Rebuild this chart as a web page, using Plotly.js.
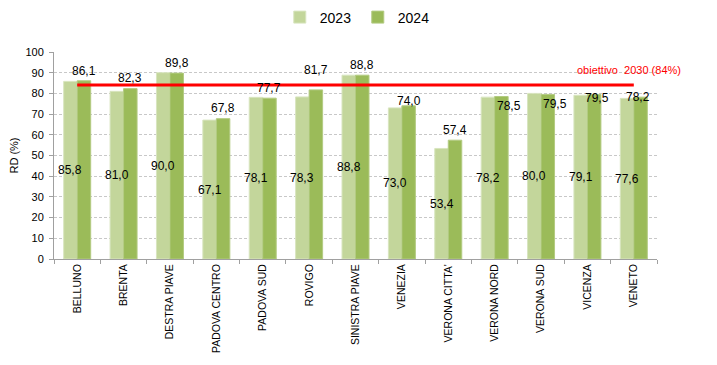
<!DOCTYPE html>
<html>
<head>
<meta charset="utf-8">
<script src="https://cdn.plot.ly/plotly-3.0.1.min.js"></script>
<style>html,body{margin:0;padding:0;background:#fff}#chart{width:717px;height:365px}</style>
</head>
<body>
<div id="chart"></div>
<script>
const categories = ["BELLUNO","BRENTA","DESTRA PIAVE","PADOVA CENTRO","PADOVA SUD","ROVIGO","SINISTRA PIAVE","VENEZIA","VERONA CITTA'","VERONA NORD","VERONA SUD","VICENZA","VENETO"];
const values2023 = [85.8, 81.0, 90.0, 67.1, 78.1, 78.3, 88.8, 73.0, 53.4, 78.2, 80.0, 79.1, 77.6];
const values2024 = [86.1, 82.3, 89.8, 67.8, 77.7, 81.7, 88.8, 74.0, 57.4, 78.5, 79.5, 79.5, 78.2];
const target2030 = 84;
const targetLabel = "obiettivo&nbsp;&nbsp;2030&nbsp;(84%)";
const yTicks = [0,10,20,30,40,50,60,70,80,90,100];

// label placement tweaks (style only, pixels)
const shiftY2024 = [10, 10.5, 10, 10.5, 10, 20, 10, 5, 10, -9.5, -10, -4, 0];
const shiftX2024 = [0, 0, 0, 0, 0, 0, 0, 0, 0, 8, 7, 3, -3];

const fmt = v => v.toFixed(1).replace('.', ',');
const BAR_OFF = 6.7;

const traces = [
  {type:'bar', name:'2023', x:categories, y:values2023,
   marker:{color:'#c3d69b', line:{color:'#d8e5bf', width:1}}, hoverinfo:'none'},
  {type:'bar', name:'2024', x:categories, y:values2024,
   marker:{color:'#9bbb59', line:{color:'#b3cb82', width:1}}, hoverinfo:'none'}
];

const annotations = [];
categories.forEach((c,i) => {
  annotations.push({x:c, y:values2023[i]/2, xref:'x', yref:'y', text:fmt(values2023[i]),
    showarrow:false, xshift:-BAR_OFF, yanchor:'middle', xanchor:'center',
    font:{family:'Liberation Sans, Arial, sans-serif', size:12, color:'#000'}});
  annotations.push({x:c, y:values2024[i], xref:'x', yref:'y', text:fmt(values2024[i]),
    showarrow:false, xshift:BAR_OFF + shiftX2024[i], yshift:shiftY2024[i], yanchor:'middle', xanchor:'center',
    font:{family:'Liberation Sans, Arial, sans-serif', size:12, color:'#000'}});
});
annotations.push({x:1, xref:'paper', xanchor:'right', xshift:26, y:target2030, yref:'y', yshift:15, yanchor:'middle',
  text:targetLabel, showarrow:false, font:{family:'Liberation Sans, Arial, sans-serif', size:11, color:'#ff0000'}});

const layout = {
  width:717, height:365,
  margin:{l:54, r:60, t:52, b:106},
  paper_bgcolor:'#fff', plot_bgcolor:'#fff',
  barmode:'group', bargap:0.418, bargroupgap:0,
  font:{family:'Liberation Sans, Arial, sans-serif', size:11, color:'#000'},
  showlegend:true,
  legend:{orientation:'h', xref:'container', yref:'container', x:0.499, xanchor:'center', y:0.952, yanchor:'middle',
    font:{size:14, color:'#000'}, itemwidth:30, entrywidth:33, entrywidthmode:'pixels', traceorder:'normal'},
  xaxis:{type:'category', tickangle:-90, tickson:'boundaries', ticks:'outside', ticklen:4,
    tickcolor:'#a0a0a0', showline:true, linecolor:'#a0a0a0', linewidth:1, showgrid:false,
    tickfont:{size:10.5, color:'#000'}, fixedrange:true},
  yaxis:{range:[0,100], tickvals:yTicks, ticks:'outside', ticklen:4, tickcolor:'#a0a0a0',
    showline:true, linecolor:'#a0a0a0', linewidth:1, showgrid:true, gridcolor:'#c8c8c8', griddash:'3px,2px',
    tickfont:{size:11, color:'#000'}, ticklabelstandoff:3, zeroline:false,
    title:{text:'RD (%)', font:{size:11, color:'#000'}, standoff:4}, fixedrange:true},
  shapes:[{type:'line', xref:'x', yref:'y', x0:0, x1:categories.length-1, y0:target2030, y1:target2030,
    line:{color:'#ff0000', width:3}}],
  annotations:annotations
};

Plotly.newPlot('chart', traces, layout, {staticPlot:true, displayModeBar:false});
</script>
</body>
</html>
